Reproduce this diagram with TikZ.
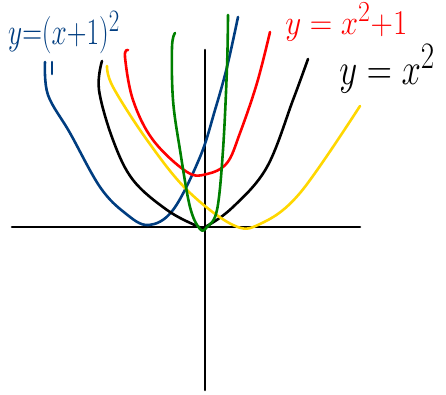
\documentclass[tikz,border=0pt]{standalone}
\usepackage{amsmath,amssymb}
\usetikzlibrary{positioning}
\definecolor{cblue}{RGB}{0,61,128}
\definecolor{cred}{RGB}{255,0,0}
\definecolor{cyel}{RGB}{255,215,0}
\definecolor{cgreen}{RGB}{0,128,0}
\tikzset{
  axis/.style={black, line width=2.6pt, line cap=round},
  crv/.style={line width=2.6pt, line cap=round, line join=round},
  lbl/.style={inner sep=0pt, font=\Huge},
}
\begin{document}
\begin{tikzpicture}[x=1pt, y=-1pt]
  \useasboundingbox (0,0) rectangle (446,395);
  % axes
  \coordinate (xl) at (12,227);
  \coordinate (xr) at (360,227);
  \coordinate (yt) at (205,50);
  \coordinate (yb) at (205,390);
  \draw[axis] (xl) -- (xr);
  \draw[axis] (yt) -- (yb);
  % y = (x+1)^2
  \draw[crv, cblue] plot[smooth, tension=0.6] coordinates {(45,62) (48,95) (70,133) (100,187) (125,213) (148,225) (173,210) (200,157) (215,110) (227,67) (238,17)};
  \coordinate (tk1) at (52,62);
  \coordinate (tk2) at (52,74);
  \draw[crv, cblue] (tk1) -- (tk2);
  % y = x^2
  \draw[crv, black] plot[smooth, tension=0.6] coordinates {(102,61) (99,90) (113,140) (133,180) (167,210) (197,226) (205,227) (233,207) (267,167) (293,100) (308,59)};
  % y = x^2 + 1
  \draw[crv, cred] plot[smooth, tension=0.6] coordinates {(128,50) (125,57) (133,100) (153,140) (187,172) (207,174) (227,163) (240,133) (257,83) (270,32)};
  % shifted parabola
  \draw[crv, cyel] plot[smooth, tension=0.6] coordinates {(107,66) (113,87) (147,140) (187,190) (233,225) (260,224) (300,193) (360,106)};
  % narrow parabola
  \draw[crv, cgreen] plot[smooth, tension=0.6] coordinates {(175,33) (172,47) (173,100) (180,150) (190,207) (200,229) (207,227) (217,210) (223,150) (227,67) (228,15)};
  % labels
  \node[lbl, cblue, anchor=north west, xscale=1.1, yscale=1.5] (lblue) at (8,11) {$y{=}(x{+}1)^2$};
  \node[lbl, cred, anchor=north west, xscale=1.25, yscale=1.4] (lred) at (285,3) {$y=x^2{+}1$};
  \node[lbl, black, anchor=north west, xscale=1.4, yscale=1.8] (lblack) at (339,44) {$y=x^2$};
\end{tikzpicture}
\end{document}
